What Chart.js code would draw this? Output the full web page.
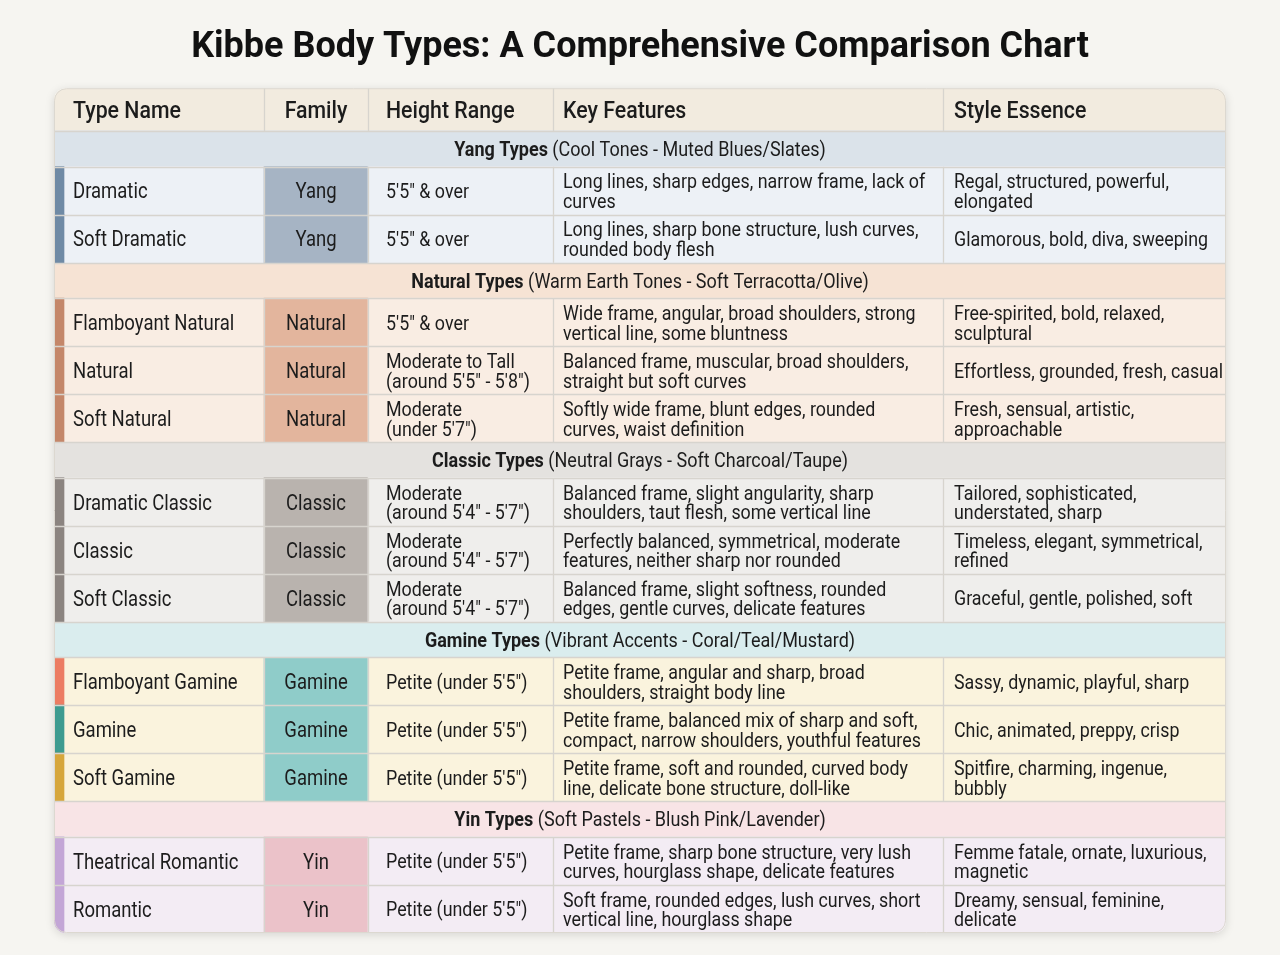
<!DOCTYPE html>
<html>
<head>
<meta charset="utf-8">
<script src="https://cdn.jsdelivr.net/npm/chart.js@4.4.1/dist/chart.umd.min.js"></script>
<style>
  html, body { margin: 0; padding: 0; background: #f6f5f1; }
  #wrap { width: 1280px; height: 955px; position: relative; }
</style>
</head>
<body>
<div id="wrap"><canvas id="c" width="1280" height="955"></canvas></div>
<script>
// ---------------- DATA ----------------
const chartTitle = 'Kibbe Body Types: A Comprehensive Comparison Chart';
const columnHeaders = ['Type Name', 'Family', 'Height Range', 'Key Features', 'Style Essence'];
const groupTitles = ['Yang Types', 'Natural Types', 'Classic Types', 'Gamine Types', 'Yin Types'];
const groupNotes = [
  '(Cool Tones - Muted Blues/Slates)',
  '(Warm Earth Tones - Soft Terracotta/Olive)',
  '(Neutral Grays - Soft Charcoal/Taupe)',
  '(Vibrant Accents - Coral/Teal/Mustard)',
  '(Soft Pastels - Blush Pink/Lavender)'
];
const typeNames = [
  'Dramatic', 'Soft Dramatic',
  'Flamboyant Natural', 'Natural', 'Soft Natural',
  'Dramatic Classic', 'Classic', 'Soft Classic',
  'Flamboyant Gamine', 'Gamine', 'Soft Gamine',
  'Theatrical Romantic', 'Romantic'
];
const typeGroup = [0, 0, 1, 1, 1, 2, 2, 2, 3, 3, 3, 4, 4];
const families = [
  'Yang', 'Yang',
  'Natural', 'Natural', 'Natural',
  'Classic', 'Classic', 'Classic',
  'Gamine', 'Gamine', 'Gamine',
  'Yin', 'Yin'
];
const heightRanges = [
  '5\'5" & over', '5\'5" & over',
  '5\'5" & over', 'Moderate to Tall\n(around 5\'5" - 5\'8")', 'Moderate\n(under 5\'7")',
  'Moderate\n(around 5\'4" - 5\'7")', 'Moderate\n(around 5\'4" - 5\'7")', 'Moderate\n(around 5\'4" - 5\'7")',
  'Petite (under 5\'5")', 'Petite (under 5\'5")', 'Petite (under 5\'5")',
  'Petite (under 5\'5")', 'Petite (under 5\'5")'
];
const keyFeatures = [
  'Long lines, sharp edges, narrow frame, lack of\ncurves',
  'Long lines, sharp bone structure, lush curves,\nrounded body flesh',
  'Wide frame, angular, broad shoulders, strong\nvertical line, some bluntness',
  'Balanced frame, muscular, broad shoulders,\nstraight but soft curves',
  'Softly wide frame, blunt edges, rounded\ncurves, waist definition',
  'Balanced frame, slight angularity, sharp\nshoulders, taut flesh, some vertical line',
  'Perfectly balanced, symmetrical, moderate\nfeatures, neither sharp nor rounded',
  'Balanced frame, slight softness, rounded\nedges, gentle curves, delicate features',
  'Petite frame, angular and sharp, broad\nshoulders, straight body line',
  'Petite frame, balanced mix of sharp and soft,\ncompact, narrow shoulders, youthful features',
  'Petite frame, soft and rounded, curved body\nline, delicate bone structure, doll-like',
  'Petite frame, sharp bone structure, very lush\ncurves, hourglass shape, delicate features',
  'Soft frame, rounded edges, lush curves, short\nvertical line, hourglass shape'
];
const styleEssence = [
  'Regal, structured, powerful,\nelongated',
  'Glamorous, bold, diva, sweeping',
  'Free-spirited, bold, relaxed,\nsculptural',
  'Effortless, grounded, fresh, casual',
  'Fresh, sensual, artistic,\napproachable',
  'Tailored, sophisticated,\nunderstated, sharp',
  'Timeless, elegant, symmetrical,\nrefined',
  'Graceful, gentle, polished, soft',
  'Sassy, dynamic, playful, sharp',
  'Chic, animated, preppy, crisp',
  'Spitfire, charming, ingenue,\nbubbly',
  'Femme fatale, ornate, luxurious,\nmagnetic',
  'Dreamy, sensual, feminine,\ndelicate'
];

// ---------------- LAYOUT & STYLE ----------------
const colWidths = [210, 104, 185, 390, 283];      // table units
const colPadX = [19, 0, 18, 10, 11];
const colAlign = ['left', 'center', 'left', 'left', 'left'];
const rowUnits = { header: 43, section: 35.6, data: 48 };
const stripeUnits = 10;
const headerBg = '#f2ebdf';
const gridColor = '#d7d4ce';
const sectionBg = ['#dbe3ea', '#f6e3d4', '#e4e2df', '#daedee', '#f8e4e6'];
const rowBg = ['#edf1f6', '#f9ede3', '#efeeec', '#faf3dd', '#f3ecf4'];
const familyBg = ['#a6b4c4', '#e3b59d', '#b9b3ae', '#8fccc9', '#ebc2c9'];
const accentByType = ['#6f8aa5', '#6f8aa5', '#c4876a', '#c4876a', '#c4876a',
  '#8b8480', '#8b8480', '#8b8480', '#ec7c62', '#3e9b90', '#d6a63b', '#c3a6d6', '#c3a6d6'];
const FONT = 'Roboto, "Liberation Sans", sans-serif';
const CAP = 0.711;   // Roboto cap-height ratio
const textStyles = {
  header:  { size: 24.5, weight: '500', sx: 0.87 },
  section: { size: 20, sx: 0.9 },
  name:    { size: 21.5, weight: '400', sx: 0.86 },
  body:    { size: 21, weight: '400', sx: 0.85 }
};
const lineGap = 19.5;

// column edges
const colEdges = [0];
colWidths.forEach(w => colEdges.push(colEdges[colEdges.length - 1] + w));
const tableW = colEdges[colEdges.length - 1];

// rows
const rows = [];
let yCursor = 0;
function addRow(kind, info) {
  const h = rowUnits[kind];
  rows.push(Object.assign({ kind, y0: yCursor, y1: yCursor + h, yc: yCursor + h / 2 }, info));
  yCursor += h;
}
addRow('header', {});
groupTitles.forEach((g, gi) => {
  addRow('section', { group: gi });
  typeNames.forEach((t, ti) => { if (typeGroup[ti] === gi) addRow('data', { type: ti, group: gi }); });
});
const tableH = yCursor;

// datasets
const headerData = [], headerColors = [];
const sectionData = [], sectionColors = [];
const cellData = [], cellColors = [];
const stripeData = [], stripeColors = [];
rows.forEach(r => {
  if (r.kind === 'header') {
    for (let c = 0; c < 5; c++) { headerData.push({ x: [colEdges[c], colEdges[c + 1]], y: r.yc }); headerColors.push(headerBg); }
  } else if (r.kind === 'section') {
    sectionData.push({ x: [0, tableW], y: r.yc }); sectionColors.push(sectionBg[r.group]);
  } else {
    for (let c = 0; c < 5; c++) {
      cellData.push({ x: [colEdges[c], colEdges[c + 1]], y: r.yc });
      cellColors.push(c === 1 ? familyBg[r.group] : rowBg[r.group]);
    }
    stripeData.push({ x: [0, stripeUnits], y: r.yc }); stripeColors.push(accentByType[r.type]);
  }
});

function thick(units) {
  return function (ctx) {
    const ys = ctx.chart.scales && ctx.chart.scales.y;
    if (!ys) return units;
    return Math.abs(ys.getPixelForValue(units) - ys.getPixelForValue(0)) + 0.5;
  };
}

const baseDs = { grouped: false, borderSkipped: false, borderWidth: 0 };

const tablePlugin = {
  id: 'tablePlugin',
  beforeDatasetsDraw(chart) {
    const { ctx, chartArea: a } = chart;
    ctx.save();
    ctx.shadowColor = 'rgba(0,0,0,0.13)';
    ctx.shadowBlur = 10;
    ctx.shadowOffsetY = 2;
    ctx.fillStyle = '#ffffff';
    ctx.beginPath();
    ctx.roundRect(a.left, a.top, a.right - a.left, a.bottom - a.top, 12);
    ctx.fill();
    ctx.restore();
    ctx.save();
    ctx.beginPath();
    ctx.roundRect(a.left, a.top, a.right - a.left, a.bottom - a.top, 12);
    ctx.clip();
  },
  afterDatasetsDraw(chart) {
    const { ctx, chartArea: a } = chart;
    const xs = chart.scales.x, ys = chart.scales.y;
    // grid lines
    ctx.strokeStyle = gridColor;
    ctx.lineWidth = 1.3;
    rows.forEach((r, i) => {
      if (i === 0) return;
      const py = Math.round(ys.getPixelForValue(r.y0)) + 0.5;
      ctx.beginPath(); ctx.moveTo(a.left, py); ctx.lineTo(a.right, py); ctx.stroke();
    });
    rows.forEach(r => {
      if (r.kind === 'section') return;
      const py0 = ys.getPixelForValue(r.y0), py1 = ys.getPixelForValue(r.y1);
      for (let c = 1; c < 5; c++) {
        const px = Math.round(xs.getPixelForValue(colEdges[c])) + 0.5;
        ctx.beginPath(); ctx.moveTo(px, py0); ctx.lineTo(px, py1); ctx.stroke();
      }
    });
    ctx.restore();
    // outer border
    ctx.save();
    ctx.strokeStyle = '#dcd8d0';
    ctx.lineWidth = 1;
    ctx.beginPath();
    ctx.roundRect(a.left + 0.5, a.top + 0.5, a.right - a.left - 1, a.bottom - a.top - 1, 12);
    ctx.stroke();
    ctx.restore();

    // text
    ctx.save();
    ctx.textBaseline = 'alphabetic';
    ctx.fillStyle = '#1c1c1c';
    function drawScaled(txt, x, y, sx) {
      ctx.save();
      ctx.translate(x, y);
      ctx.scale(sx, 1);
      ctx.fillText(txt, 0, 0);
      ctx.restore();
    }
    function cellText(text, c, py, st) {
      const lines = text.split('\n');
      ctx.font = st.weight + ' ' + st.size + 'px ' + FONT;
      ctx.textAlign = colAlign[c];
      let px;
      if (colAlign[c] === 'center') px = (xs.getPixelForValue(colEdges[c]) + xs.getPixelForValue(colEdges[c + 1])) / 2;
      else px = xs.getPixelForValue(colEdges[c]) + colPadX[c];
      const cap = st.size * CAP;
      const firstBase = py + cap / 2 - (lines.length - 1) * lineGap / 2;
      lines.forEach((ln, k) => drawScaled(ln, px, firstBase + k * lineGap, st.sx));
    }
    rows.forEach(r => {
      const py = ys.getPixelForValue(r.yc);
      if (r.kind === 'header') {
        columnHeaders.forEach((h, c) => cellText(h, c, py, textStyles.header));
      } else if (r.kind === 'section') {
        const st = textStyles.section;
        const boldF = 'bold ' + st.size + 'px ' + FONT, normF = st.size + 'px ' + FONT;
        const t1 = groupTitles[r.group], t2 = ' ' + groupNotes[r.group];
        ctx.font = boldF; const w1 = ctx.measureText(t1).width * st.sx;
        ctx.font = normF; const w2 = ctx.measureText(t2).width * st.sx;
        const cx = (xs.getPixelForValue(0) + xs.getPixelForValue(tableW)) / 2;
        const sx = cx - (w1 + w2) / 2;
        const base = py + st.size * CAP / 2;
        ctx.textAlign = 'left';
        ctx.font = boldF; drawScaled(t1, sx, base, st.sx);
        ctx.font = normF; drawScaled(t2, sx + w1, base, st.sx);
      } else {
        const t = r.type;
        cellText(typeNames[t], 0, py, textStyles.name);
        cellText(families[t], 1, py, textStyles.name);
        cellText(heightRanges[t], 2, py, textStyles.body);
        cellText(keyFeatures[t], 3, py, textStyles.body);
        cellText(styleEssence[t], 4, py, textStyles.body);
      }
    });
    ctx.restore();
  }
};

new Chart(document.getElementById('c'), {
  type: 'bar',
  data: {
    datasets: [
      Object.assign({ label: 'accents', data: stripeData, backgroundColor: stripeColors, barThickness: thick(rowUnits.data) }, baseDs),
      Object.assign({ label: 'cells', data: cellData, backgroundColor: cellColors, barThickness: thick(rowUnits.data) }, baseDs),
      Object.assign({ label: 'sections', data: sectionData, backgroundColor: sectionColors, barThickness: thick(rowUnits.section) }, baseDs),
      Object.assign({ label: 'header', data: headerData, backgroundColor: headerColors, barThickness: thick(rowUnits.header) }, baseDs)
    ]
  },
  options: {
    indexAxis: 'y',
    responsive: false,
    animation: false,
    devicePixelRatio: 1,
    layout: { padding: { left: 54, right: 54, top: 0, bottom: 22 } },
    scales: {
      x: { type: 'linear', min: 0, max: tableW, display: false, offset: false },
      y: { type: 'linear', min: 0, max: tableH, reverse: true, display: false, offset: false }
    },
    plugins: {
      legend: { display: false },
      tooltip: { enabled: false },
      title: {
        display: true,
        text: chartTitle,
        color: '#111111',
        font: { family: FONT, size: 36, weight: 'bold' },
        padding: { top: 26, bottom: 19 }
      }
    }
  },
  plugins: [tablePlugin]
});
</script>
</body>
</html>
